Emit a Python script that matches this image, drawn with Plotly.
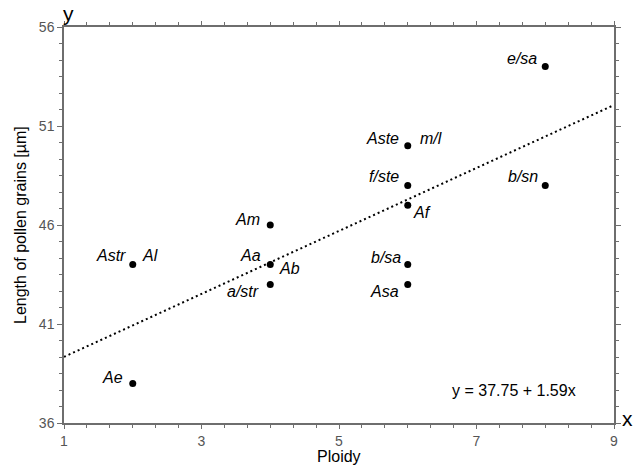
import plotly.graph_objects as go

# ---- data ----
ploidy = [2, 2, 4, 4, 4, 6, 6, 6, 6, 6, 8, 8]
length = [38, 44, 46, 44, 43, 50, 48, 47, 44, 43, 54, 48]
point_labels = [["Ae"], ["Astr", "Al"], ["Am"], ["Aa", "Ab"], ["a/str"],
                ["Aste", "m/l"], ["f/ste"], ["Af"], ["b/sa"], ["Asa"],
                ["e/sa"], ["b/sn"]]
intercept = 37.75
slope = 1.59
x_range = [1, 9]
y_range = [36, 56]
x_ticks = [1, 3, 5, 7, 9]
y_ticks = [36, 41, 46, 51, 56]

# ---- label placement (styling only) ----
placement = {
    "Ae": ("right", -8, 6), "Astr": ("right", -5, 9), "Al": ("left", 7, 9),
    "Am": ("right", -8, 6), "Aa": ("right", -7, 9), "Ab": ("left", 7, -4),
    "a/str": ("right", -9, -7), "Aste": ("right", -7, 7), "m/l": ("left", 10, 7),
    "f/ste": ("right", -7, 9), "Af": ("left", 3, -7), "b/sa": ("right", -5, 7),
    "Asa": ("right", -7, -7), "e/sa": ("right", -6, 8), "b/sn": ("right", -5, 9),
}

FONT = "Liberation Sans, Arial, sans-serif"
TICKFONT = "Liberation Sans Narrow, Arial Narrow, Liberation Sans, sans-serif"
AXC = "#6e6e6e"

fig = go.Figure()

# regression line
fig.add_trace(go.Scatter(
    x=x_range, y=[intercept + slope * v for v in x_range],
    mode="lines", line=dict(color="black", width=2, dash="2px,3px"),
    hoverinfo="skip", showlegend=False))

fig.add_trace(go.Scatter(
    x=ploidy, y=length, mode="markers",
    marker=dict(color="black", size=7), showlegend=False))

annotations = []
for xv, yv, labs in zip(ploidy, length, point_labels):
    for lab in labs:
        anc, xs, ys = placement[lab]
        annotations.append(dict(
            x=xv, y=yv, xref="x", yref="y", text="<i>%s</i>" % lab,
            showarrow=False, xanchor=anc, yanchor="middle",
            xshift=xs, yshift=ys,
            font=dict(family=FONT, size=16, color="black")))

annotations += [
    dict(x=8.47, y=37.62, xref="x", yref="y", text="y = 37.75 + 1.59x",
         showarrow=False, xanchor="right", yanchor="middle",
         font=dict(family=FONT, size=16, color="black")),
    dict(x=-0.08, y=0.5, xref="paper", yref="paper",
         text="Length of pollen grains [µm]", textangle=-90,
         showarrow=False, xanchor="center", yanchor="middle",
         font=dict(family=FONT, size=16, color="black")),
    dict(x=0.5, y=0.0, xref="paper", yref="paper", text="Ploidy",
         showarrow=False, xanchor="center", yanchor="top", yshift=-23,
         font=dict(family=FONT, size=16, color="black")),
    dict(x=0.0, y=1.0, xref="paper", yref="paper", text="y",
         showarrow=False, xanchor="left", yanchor="bottom", xshift=-3, yshift=0,
         font=dict(family=FONT, size=21, color="black")),
    dict(x=1.0, y=0.0, xref="paper", yref="paper", text="x",
         showarrow=False, xanchor="left", yanchor="middle", xshift=6, yshift=5,
         font=dict(family=FONT, size=21, color="black")),
]

fig.update_layout(
    width=641, height=465,
    margin=dict(l=64, r=27, t=27, b=42),
    paper_bgcolor="white", plot_bgcolor="white",
    annotations=annotations,
    xaxis=dict(range=x_range, tickvals=x_ticks, ticks="outside", ticklen=4,
               tickcolor=AXC, showline=True, linecolor=AXC, linewidth=1.5,
               mirror="ticks", showgrid=False, zeroline=False,
               tickfont=dict(family=TICKFONT, size=14, color="#555"),
               minor=dict(dtick=2/6, tick0=1, ticks="outside", ticklen=3,
                          tickcolor=AXC, showgrid=False)),
    yaxis=dict(range=y_range, tickvals=y_ticks, ticks="outside", ticklen=5,
               tickcolor=AXC, showline=True, linecolor=AXC, linewidth=1.5,
               mirror="ticks", showgrid=False, zeroline=False,
               tickfont=dict(family=TICKFONT, size=14, color="#555"),
               minor=dict(dtick=5/6, tick0=36, ticks="outside", ticklen=3,
                          tickcolor=AXC, showgrid=False)),
)

fig.write_html("out.html", config={"displayModeBar": False},
               post_script="document.body.style.margin='0';document.body.style.overflow='hidden';")
